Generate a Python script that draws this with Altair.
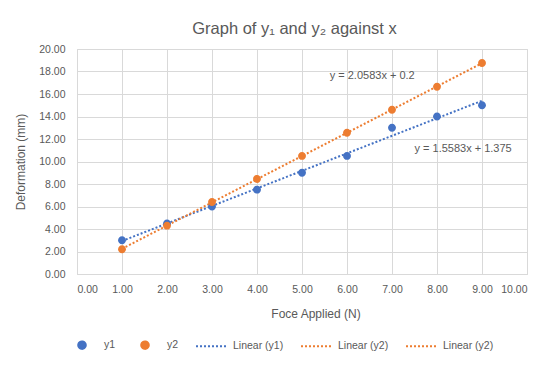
import altair as alt
import pandas as pd

x_vals = [1, 2, 3, 4, 5, 6, 7, 8, 9]
y1_vals = [3.0, 4.5, 6.0, 7.5, 9.0, 10.5, 13.0, 14.0, 15.0]
y2_vals = [2.2, 4.3, 6.4, 8.45, 10.5, 12.55, 14.6, 16.65, 18.75]

CIRCLE = "M0.25,0A0.25,0.25,0,1,1,-0.25,0A0.25,0.25,0,1,1,0.25,0Z"
legend_domain = ["y1", "y2", "Linear (y1)", "Linear (y2)", "Linear (y2) "]
legend_colors = ["#4472C4", "#ED7D31", "#4472C4", "#ED7D31", "#ED7D31"]
legend_shapes = [CIRCLE, CIRCLE, "stroke", "stroke", "stroke"]
legend_dashes = [[1, 0], [1, 0], [2, 2], [2, 2], [2, 2]]

eq_text = ["y = 2.0583x + 0.2", "y = 1.5583x + 1.375"]
eq_x = [6.56, 8.58]
eq_y = [17.56, 11.11]

rows = []
for xv, a, b in zip(x_vals, y1_vals, y2_vals):
    rows.append({"x": xv, "value": a, "series": "y1"})
    rows.append({"x": xv, "value": b, "series": "y2"})
df = pd.DataFrame(rows)
eq_df = pd.DataFrame({"text": eq_text, "x": eq_x, "value": eq_y})

GRAY = "#595959"
FONT = "Liberation Sans"

color_scale = alt.Scale(domain=legend_domain, range=legend_colors)
shape_scale = alt.Scale(domain=legend_domain, range=legend_shapes)
dash_scale = alt.Scale(domain=legend_domain, range=legend_dashes)

xs = alt.X("x:Q", scale=alt.Scale(domain=[0, 10]),
           axis=alt.Axis(values=list(range(0, 11)), format=".2f", title="Foce Applied (N)",
                         labelOverlap=False, labelPadding=10, titlePadding=14,
                         titleX=238.5, titleAnchor="start", titleAlign="center"))
ys = alt.Y("value:Q", scale=alt.Scale(domain=[0, 20]),
           axis=alt.Axis(values=list(range(0, 21, 2)), format=".2f", title="Deformation (mm)",
                         labelOverlap=False, labelPadding=12, titlePadding=11))

legend = alt.Legend(title=None, orient="none", legendX=-11, legendY=280,
                    direction="horizontal", columns=5, symbolSize=900,
                    labelFontSize=10.5, labelColor=GRAY, labelFont=FONT,
                    symbolStrokeWidth=2, columnPadding=13, labelOffset=6,
                    symbolOpacity=1)

points = alt.Chart(df).mark_point(filled=True, opacity=1, size=1000).encode(
    x=xs,
    y=ys,
    color=alt.Color("series:N", scale=color_scale, legend=legend),
    shape=alt.Shape("series:N", scale=shape_scale, legend=legend),
    strokeDash=alt.StrokeDash("series:N", scale=dash_scale, legend=legend),
)

lines = alt.Chart(df).transform_regression(
    "x", "value", groupby=["series"]
).transform_calculate(
    series="'Linear (' + datum.series + ')'"
).mark_line(strokeWidth=2).encode(
    x=xs,
    y=ys,
    color=alt.Color("series:N", scale=color_scale, legend=legend),
    strokeDash=alt.StrokeDash("series:N", scale=dash_scale, legend=legend),
)

eqs = alt.Chart(eq_df).mark_text(fontSize=11, color=GRAY, font=FONT).encode(
    x=xs, y=ys, text="text:N"
)

chart = alt.layer(lines, points, eqs).properties(
    width=450, height=225,
    title=alt.TitleParams("Graph of y₁ and y₂ against x", fontSize=16.5, font=FONT,
                          color=GRAY, fontWeight="normal", dx=-7.5, offset=7),
    autosize=alt.AutoSizeParams(type="none"),
    padding={"left": 69, "top": 41, "right": 21, "bottom": 83},
).configure_axis(
    gridColor="#D9D9D9", domainColor="#D9D9D9", ticks=False,
    labelColor=GRAY, labelFont=FONT, labelFontSize=10.5,
    titleColor=GRAY, titleFont=FONT, titleFontSize=12, titleFontWeight="normal",
).configure_axisY(domain=False).configure_view(stroke="#D9D9D9")

chart.save("out.html", embed_options={"renderer": "svg", "actions": False})
